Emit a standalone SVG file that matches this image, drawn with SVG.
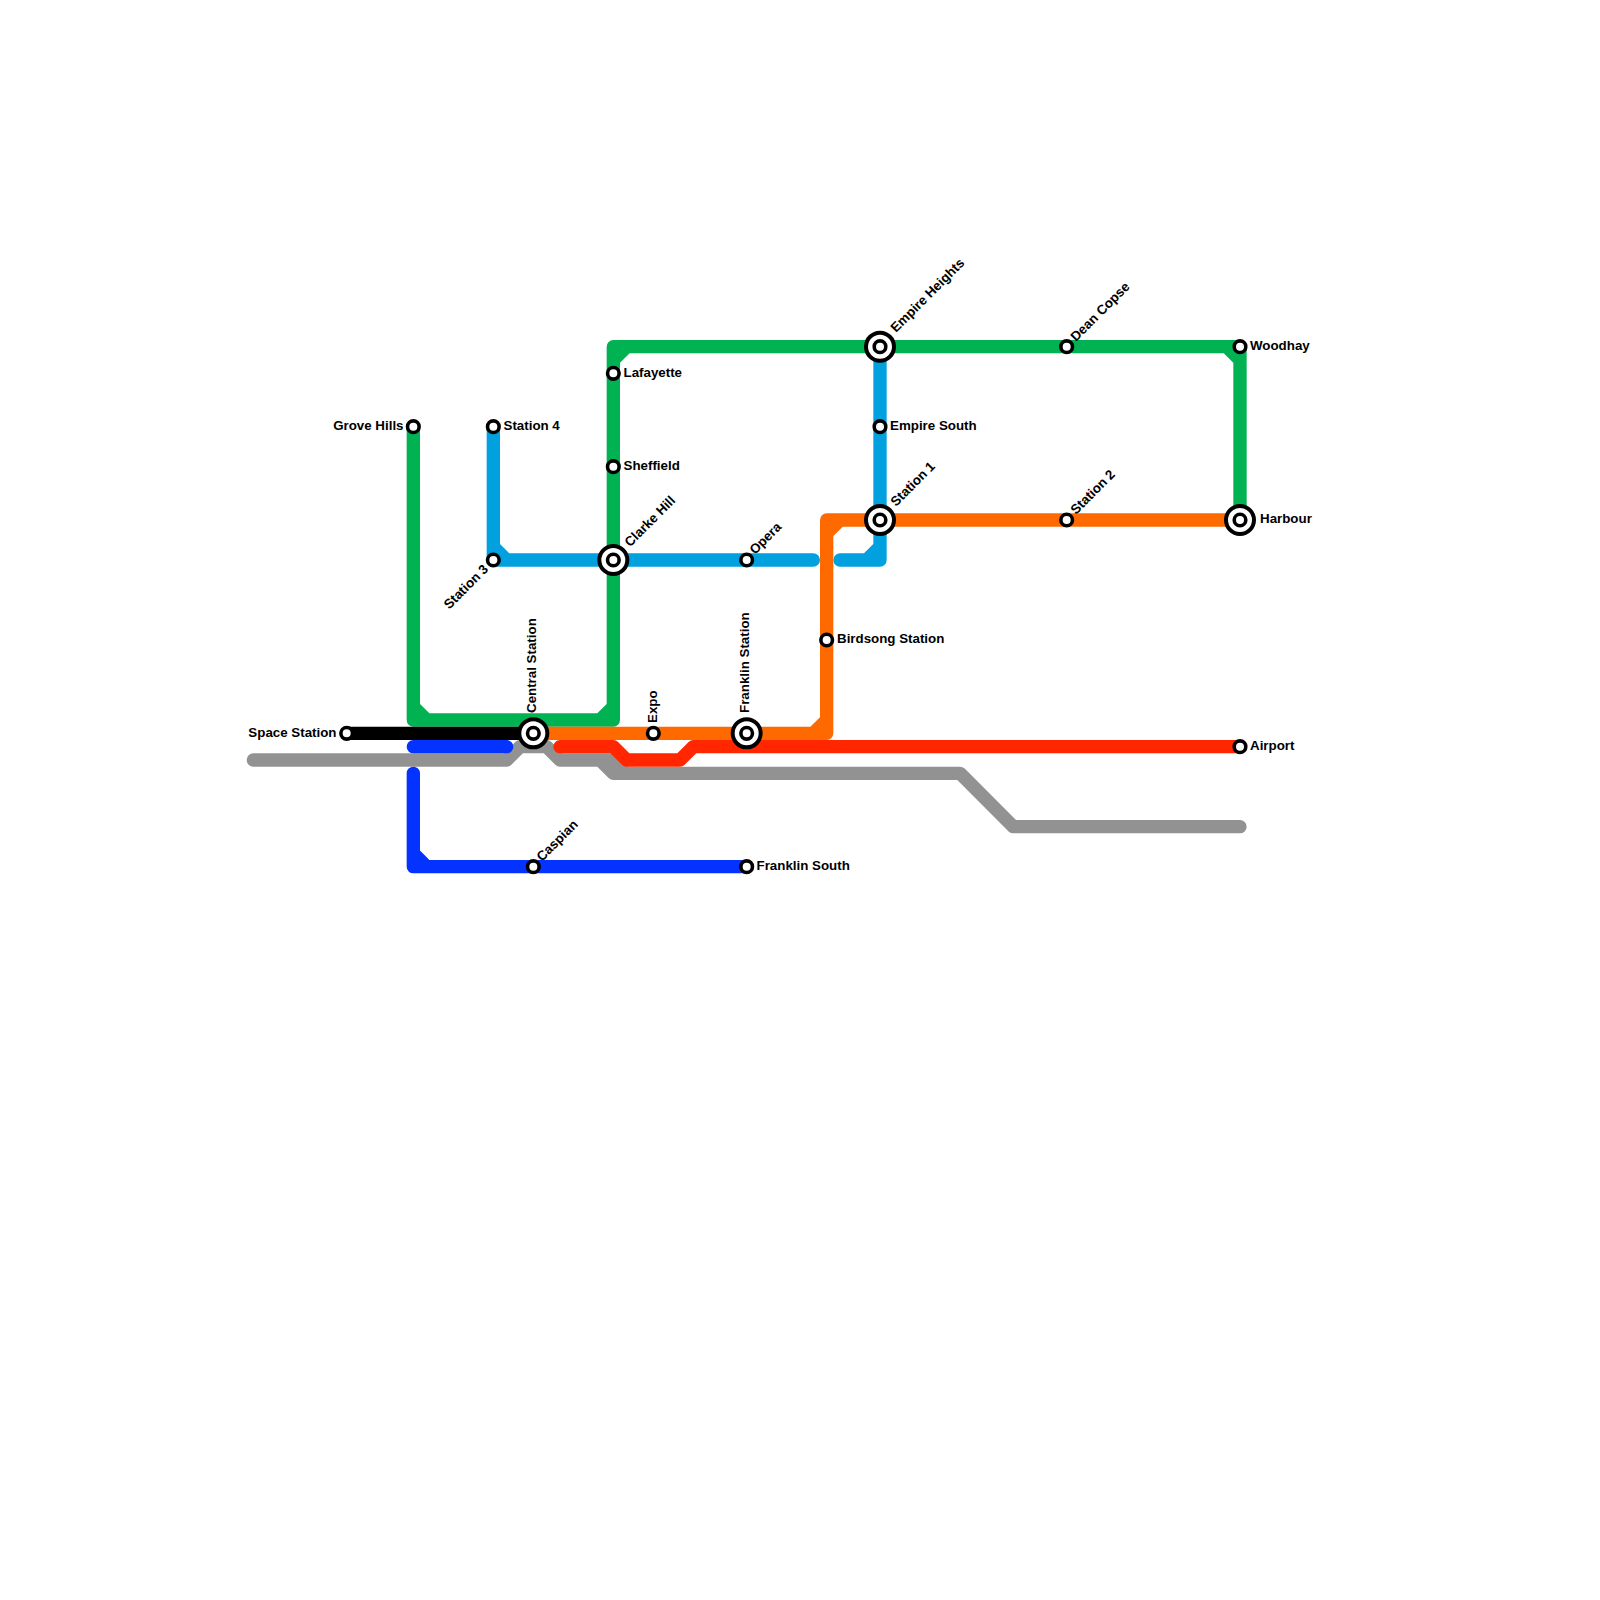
<svg xmlns="http://www.w3.org/2000/svg" width="1600" height="1600" viewBox="0 0 1600 1600">
<style>
.l{fill:none;stroke-width:13.33;stroke-linecap:round;stroke-linejoin:round}
.s{fill:#fff;stroke:#000;stroke-width:3.6}
.o{fill:#fff;stroke:#000;stroke-width:4}
.t{font-family:"Liberation Sans",Arial,sans-serif;font-weight:700;font-size:13.33px;fill:#000}
.e{text-anchor:end}
</style>
<rect width="1600" height="1600" fill="#fff"/>
<defs>
<g id="st"><circle class="s" r="5.8"/></g>
<g id="ix"><circle class="o" r="14"/><circle class="s" r="5.8"/></g>
</defs>
<g id="connectors">
<path class="l" stroke="#929292" d="M253.330 760H506.670L520 746.670H546.670L560 760H600L613.330 773.330H960L1013.330 826.670H1240M600 760H626.670"/>
<path class="l" stroke="#0433ff" d="M413.330 746.670H506.670M413.330 773.330V866.670H746.670M413.330 853.330L426.670 866.670"/>
<path class="l" stroke="#ff2600" d="M560 746.670H613.330L626.670 760H680L693.330 746.670H1240"/>
<path class="l" stroke="#00a1de" d="M493.330 426.670V560H813.330M493.330 546.670L506.670 560M840 560H880V346.670M866.670 560L880 546.670"/>
<path class="l" stroke="#00b251" d="M413.330 426.670V720H613.330V346.670H1240V520M413.330 706.670L426.670 720M600 720L613.330 706.670M613.330 360L626.670 346.670M1226.670 346.670L1240 360"/>
<path class="l" stroke="#ff6a00" d="M533.330 733.330H826.670V520H1240M813.330 733.330L826.670 720M826.670 533.330L840 520"/>
<path class="l" stroke="#000" d="M346.670 733.330H533.330"/>
</g>
<g id="space-station"><use href="#st" x="346.670" y="733.330"/><text class="t e" x="336.500" y="737">Space Station</text></g>
<g id="grove-hills"><use href="#st" x="413.330" y="426.670"/><text class="t e" x="403.500" y="429.500">Grove Hills</text></g>
<g id="station-4"><use href="#st" x="493.330" y="426.670"/><text class="t" x="503.500" y="429.500">Station 4</text></g>
<g id="station-3"><use href="#st" x="493.330" y="560"/><text class="t e" transform="translate(489 570) rotate(-45)">Station 3</text></g>
<g id="lafayette"><use href="#st" x="613.330" y="373.330"/><text class="t" x="623.500" y="376.500">Lafayette</text></g>
<g id="sheffield"><use href="#st" x="613.330" y="466.670"/><text class="t" x="623.500" y="469.500">Sheffield</text></g>
<g id="clarke-hill"><use href="#ix" x="613.330" y="560"/><text class="t" transform="translate(630 547.500) rotate(-45)">Clarke Hill</text></g>
<g id="central-station"><use href="#ix" x="533.330" y="733.330"/><text class="t" transform="translate(536 713) rotate(-90)">Central Station</text></g>
<g id="expo"><use href="#st" x="653.330" y="733.330"/><text class="t" transform="translate(656.500 723) rotate(-90)">Expo</text></g>
<g id="franklin-station"><use href="#ix" x="746.670" y="733.330"/><text class="t" transform="translate(749 713) rotate(-90)">Franklin Station</text></g>
<g id="opera"><use href="#st" x="746.670" y="560"/><text class="t" transform="translate(755 555) rotate(-45)">Opera</text></g>
<g id="birdsong-station"><use href="#st" x="826.670" y="640"/><text class="t" x="837" y="642.500">Birdsong Station</text></g>
<g id="empire-heights"><use href="#ix" x="880" y="346.670"/><text class="t" transform="translate(896 333) rotate(-45)">Empire Heights</text></g>
<g id="empire-south"><use href="#st" x="880" y="426.670"/><text class="t" x="890" y="429.500">Empire South</text></g>
<g id="station-1"><use href="#ix" x="880" y="520"/><text class="t" transform="translate(896 507) rotate(-45)">Station 1</text></g>
<g id="dean-copse"><use href="#st" x="1066.670" y="346.670"/><text class="t" transform="translate(1076 342) rotate(-45)">Dean Copse</text></g>
<g id="station-2"><use href="#st" x="1066.670" y="520"/><text class="t" transform="translate(1076 515) rotate(-45)">Station 2</text></g>
<g id="woodhay"><use href="#st" x="1240" y="346.670"/><text class="t" x="1250" y="350">Woodhay</text></g>
<g id="harbour"><use href="#ix" x="1240" y="520"/><text class="t" x="1260" y="522.500">Harbour</text></g>
<g id="airport"><use href="#st" x="1240" y="746.670"/><text class="t" x="1250" y="750">Airport</text></g>
<g id="caspian"><use href="#st" x="533.330" y="866.670"/><text class="t" transform="translate(542 862) rotate(-45)">Caspian</text></g>
<g id="franklin-south"><use href="#st" x="746.670" y="866.670"/><text class="t" x="756.500" y="869.500">Franklin South</text></g>
</svg>
